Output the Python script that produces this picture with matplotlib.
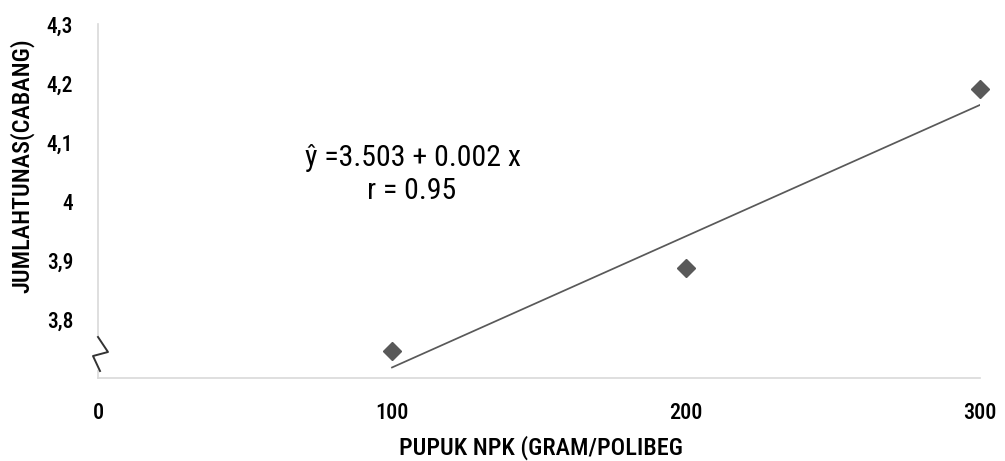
import numpy as np
import matplotlib.pyplot as plt

# data
pupuk = [100, 200, 300]
tunas = [3.745, 3.886, 4.190]

x_ticks = [0, 100, 200, 300]
x_labels = ['0', '100', '200', '300']
y_ticks = [3.8, 3.9, 4.0, 4.1, 4.2, 4.3]
y_labels = ['3,8', '3,9', '4', '4,1', '4,2', '4,3']

FONT = ['Liberation Sans Narrow', 'Arial Narrow', 'Roboto Condensed', 'Archivo Narrow',
        'PT Sans Narrow', 'Asap Condensed', 'Liberation Sans', 'DejaVu Sans']
GREY = '#595959'
W, H = 1005, 461

fig = plt.figure(figsize=(W / 100, H / 100), dpi=100)
ax = fig.add_axes([98 / W, 1 - 378 / H, 882 / W, 354 / H])

ax.plot(pupuk, tunas, 'D', color=GREY, markersize=9, zorder=3, clip_on=False)

# linear trendline
k, c = np.polyfit(pupuk, tunas, 1)
tx = np.array([pupuk[0], pupuk[-1]])
ax.plot(tx, c + k * tx, color=GREY, linewidth=1.25)

ax.set_xlim(0, 300)
ax.set_ylim(3.7, 4.3)
ax.set_xticks(x_ticks)
ax.set_xticklabels(x_labels, family=FONT, fontsize=16, fontweight='medium')
ax.set_yticks(y_ticks)
ax.set_yticklabels(y_labels, family=FONT, fontsize=15.5, fontweight='medium')
ax.tick_params(length=0)
ax.tick_params(axis='x', pad=17)
ax.tick_params(axis='y', pad=18)

for s in ['top', 'right']:
    ax.spines[s].set_visible(False)
for s in ['left', 'bottom']:
    ax.spines[s].set_color('#d9d9d9')
    ax.spines[s].set_linewidth(1.2)

# axis break mark
fig.patches.append(plt.Rectangle((97 / W, 1 - 369 / H), 40 / W, 33 / H,
                                 transform=fig.transFigure, color='white', zorder=5))
zx = np.array([98, 108, 93, 100]) / W
zy = 1 - np.array([337, 352, 356, 371]) / H
fig.add_artist(plt.Line2D(zx, zy, color='#333333', linewidth=1.4, zorder=6))

fig.text(22 / W, 1 - 166 / H, 'JUMLAHTUNAS(CABANG)', rotation=90, ha='center', va='center',
         family=FONT, fontsize=17.5, fontweight='medium')
fig.text(541 / W, 1 - 448 / H, 'PUPUK NPK (GRAM/POLIBEG', ha='center', va='center',
         family=FONT, fontsize=17.5, fontweight='medium')

fig.text(413 / W, 1 - 158 / H, 'ŷ =3.503 + 0.002 x', ha='center', va='center',
         family=FONT, fontsize=21.5)
fig.text(412 / W, 1 - 191 / H, 'r = 0.95', ha='center', va='center',
         family=FONT, fontsize=21.5)

fig.savefig('out.png', dpi=100)
